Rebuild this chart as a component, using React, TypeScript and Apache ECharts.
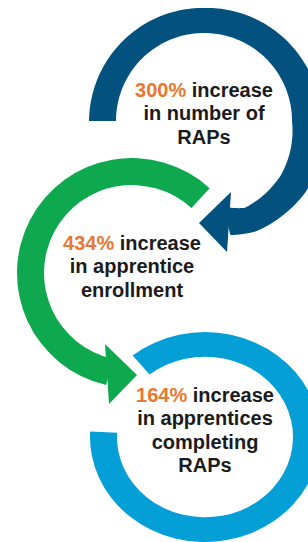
import React, { useEffect, useRef } from "react";
import * as echarts from "echarts";

// ---- Data ----
const increases = [300, 434, 164];
const firstWords = ["increase", "increase", "increase"];
const descriptions = [
  ["in number of", "RAPs"],
  ["in apprentice", "enrollment"],
  ["in apprentices", "completing", "RAPs"],
];

// ---- Styles / layout ----
const ringColors = ["#03517f", "#0ea84f", "#049fd7"];
const ORANGE = "#ea7730";
const TEXT = "#1b1b1b";
const FONT = "Liberation Sans";
const FS = 20;
const LINE_H = 23.5;
const R_OUT = 115;
const R_IN = 88;

// hand-drawn profile of the top ring (screen angles, clockwise, deg)
const topProfileAngles = [180, 270, 330, 360, 395, 425, 437];
const topProfileOuter = [115, 113, 116, 119, 124, 122, 117];
const topProfileInner = [88, 88, 88, 88, 94, 96, 88];

const ringLayout = [
  { cx: 204, cy: 121, sy: 1, start: 180, end: 437, arrow: 1, textDy: -8, profile: true },
  { cx: 132, cy: 273, sy: 1, start: 103, end: 312.5, arrow: -1, textDy: -7, profile: false },
  { cx: 205, cy: 437, sy: 0.913, start: -129, end: 183, arrow: 0, textDy: -7, profile: false },
];

const rad = (d: number) => (d * Math.PI) / 180;

function interp(xs: number[], ys: number[], x: number) {
  if (x <= xs[0]) return ys[0];
  for (let i = 1; i < xs.length; i++) {
    if (x <= xs[i]) {
      const t = (x - xs[i - 1]) / (xs[i] - xs[i - 1]);
      return ys[i - 1] + t * (ys[i] - ys[i - 1]);
    }
  }
  return ys[ys.length - 1];
}

function profilePoints() {
  const a0 = topProfileAngles[0];
  const a1 = topProfileAngles[topProfileAngles.length - 1];
  const n = Math.ceil((a1 - a0) / 1.5);
  const outer: number[][] = [];
  const inner: number[][] = [];
  for (let k = 0; k <= n; k++) {
    const a = a0 + ((a1 - a0) * k) / n;
    const ro = interp(topProfileAngles, topProfileOuter, a);
    const ri = interp(topProfileAngles, topProfileInner, a);
    outer.push([ro * Math.cos(rad(a)), ro * Math.sin(rad(a))]);
    inner.push([ri * Math.cos(rad(a)), ri * Math.sin(rad(a))]);
  }
  return outer.concat(inner.reverse());
}

function measure(text: string, weight: number) {
  const c = document.createElement("canvas").getContext("2d");
  if (!c) return text.length * FS * 0.55;
  c.font = `${weight} ${FS}px "${FONT}"`;
  return c.measureText(text).width;
}

function textEl(x: number, y: number, text: string, fill: string, weight: number, align: string) {
  return {
    type: "text",
    x,
    y,
    style: {
      text,
      align,
      verticalAlign: "middle",
      fontFamily: FONT,
      fontSize: FS,
      fontWeight: weight,
      fill,
    },
  };
}

function buildGraphics() {
  const els: any[] = [];
  ringLayout.forEach((g, i) => {
    const children: any[] = [];
    if (g.profile) {
      children.push({
        type: "polygon",
        shape: { points: profilePoints() },
        style: { fill: ringColors[i] },
      });
    } else {
      children.push({
        type: "sector",
        shape: {
          cx: 0,
          cy: 0,
          r: R_OUT,
          r0: R_IN,
          startAngle: rad(g.start),
          endAngle: rad(g.end),
          clockwise: true,
        },
        style: { fill: ringColors[i] },
      });
    }
    if (g.arrow !== 0) {
      const s = g.arrow;
      children.push({
        type: "polygon",
        shape: {
          points: [
            [s * 27, 71],
            [-s * 5, 102],
            [s * 23, 131],
          ],
        },
        style: { fill: ringColors[i] },
      });
    }
    els.push({ type: "group", x: g.cx, y: g.cy, scaleY: g.sy, children });
  });
  ringLayout.forEach((g, i) => {
    const n = descriptions[i].length + 1;
    const y0 = g.cy + g.textDy - ((n - 1) / 2) * LINE_H;
    const num = `${increases[i]}%`;
    const wNum = measure(num, 700);
    const wSp = measure(" ", 700);
    const wWord = measure(firstWords[i], 700);
    const left = g.cx - (wNum + wSp + wWord) / 2;
    els.push(textEl(left, y0, num, ORANGE, 700, "left"));
    els.push(textEl(left + wNum + wSp, y0, firstWords[i], TEXT, 700, "left"));
    descriptions[i].forEach((line, k) => {
      els.push(textEl(g.cx, y0 + (k + 1) * LINE_H, line, TEXT, 700, "center"));
    });
  });
  return els;
}

export default function App() {
  const ref = useRef<HTMLDivElement>(null);
  useEffect(() => {
    if (!ref.current) return;
    const chart = echarts.init(ref.current, undefined, { renderer: "svg" });
    chart.setOption({
      animation: false,
      backgroundColor: "#ffffff",
      graphic: { elements: buildGraphics() },
    });
    return () => chart.dispose();
  }, []);
  return (
    <div
      ref={ref}
      style={{ position: "fixed", left: 0, top: 0, width: 308, height: 542 }}
    />
  );
}
